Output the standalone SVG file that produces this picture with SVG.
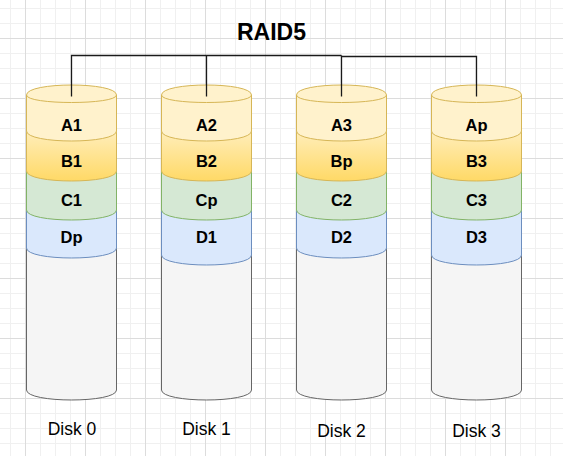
<svg xmlns="http://www.w3.org/2000/svg" width="563" height="456" viewBox="0 0 563 456">
  <style>
    .a { fill: #fff2cc; stroke: #d6b656; stroke-width: 1; }
    .b { fill: url(#gradB); stroke: #d6b656; stroke-width: 1; }
    .c { fill: #d5e8d4; stroke: #82b366; stroke-width: 1; }
    .d { fill: #dae8fc; stroke: #6c8ebf; stroke-width: 1; }
    .g { fill: #f5f5f5; stroke: #666666; stroke-width: 1; }
    .front { fill: none; stroke: #d6b656; stroke-width: 1; }
    .seg { font-family: "Liberation Sans", Arial, sans-serif; font-size: 16.5px; font-weight: bold; fill: #000; text-anchor: middle; }
    .cap { font-family: "Liberation Sans", Arial, sans-serif; font-size: 17.5px; fill: #000; text-anchor: middle; }
    .title { font-family: "Liberation Sans", Arial, sans-serif; font-size: 23px; font-weight: bold; fill: #000; text-anchor: middle; }
    .edge { fill: none; stroke: #1a1a1a; stroke-width: 1.3; }
  </style>
  <defs>
    <linearGradient id="gradB" x1="0" y1="0" x2="0" y2="1">
      <stop offset="0" stop-color="#fff2cc"/>
      <stop offset="1" stop-color="#ffd966"/>
    </linearGradient>
    <pattern id="grid" patternUnits="userSpaceOnUse" x="25" y="38" width="60" height="60">
      <rect width="60" height="60" fill="#ffffff"/>
      <path d="M15.5,0V60M30.5,0V60M45.5,0V60M0,15.5H60M0,30.5H60M0,45.5H60" stroke="#f0f0f0" stroke-width="1" fill="none"/>
      <path d="M0.5,0V60M0,0.5H60" stroke="#dcdcdc" stroke-width="1" fill="none"/>
    </pattern>
  </defs>
  <rect width="563" height="456" fill="url(#grid)"/>

  <g id="title"><text class="title" x="271.5" y="40">RAID5</text></g>

  <g id="disk0" transform="translate(26.5,0)">
    <path class="g" d="M0,248 C0,234.67 90,234.67 90,248 L90,390 C90,403.33 0,403.33 0,390 Z"/>
    <path class="d" d="M0,210 C0,196.67 90,196.67 90,210 L90,248 C90,261.33 0,261.33 0,248 Z"/>
    <path class="c" d="M0,171 C0,157.67 90,157.67 90,171 L90,210 C90,223.33 0,223.33 0,210 Z"/>
    <path class="b" d="M0,131 C0,117.67 90,117.67 90,131 L90,171 C90,184.33 0,184.33 0,171 Z"/>
    <path class="a" d="M0,95 C0,81.67 90,81.67 90,95 L90,131 C90,144.33 0,144.33 0,131 Z"/>
    <path class="front" d="M0,95 C0,105 90,105 90,95"/>
    <text class="seg" x="45" y="130.5">A1</text>
    <text class="seg" x="45" y="167">B1</text>
    <text class="seg" x="45" y="205.5">C1</text>
    <text class="seg" x="45" y="242.5">Dp</text>
  </g>

  <g id="disk1" transform="translate(161.5,0)">
    <path class="g" d="M0,248 C0,234.67 90,234.67 90,248 L90,390 C90,403.33 0,403.33 0,390 Z"/>
    <path class="d" d="M0,210 C0,196.67 90,196.67 90,210 L90,255 C90,268.33 0,268.33 0,255 Z"/>
    <path class="c" d="M0,171 C0,157.67 90,157.67 90,171 L90,210 C90,223.33 0,223.33 0,210 Z"/>
    <path class="b" d="M0,131 C0,117.67 90,117.67 90,131 L90,171 C90,184.33 0,184.33 0,171 Z"/>
    <path class="a" d="M0,95 C0,81.67 90,81.67 90,95 L90,131 C90,144.33 0,144.33 0,131 Z"/>
    <path class="front" d="M0,95 C0,105 90,105 90,95"/>
    <text class="seg" x="45" y="130.5">A2</text>
    <text class="seg" x="45" y="167">B2</text>
    <text class="seg" x="45" y="205.5">Cp</text>
    <text class="seg" x="45" y="243">D1</text>
  </g>

  <g id="disk2" transform="translate(296.5,0)">
    <path class="g" d="M0,248 C0,234.67 90,234.67 90,248 L90,390 C90,403.33 0,403.33 0,390 Z"/>
    <path class="d" d="M0,210 C0,196.67 90,196.67 90,210 L90,248 C90,261.33 0,261.33 0,248 Z"/>
    <path class="c" d="M0,171 C0,157.67 90,157.67 90,171 L90,210 C90,223.33 0,223.33 0,210 Z"/>
    <path class="b" d="M0,131 C0,117.67 90,117.67 90,131 L90,171 C90,184.33 0,184.33 0,171 Z"/>
    <path class="a" d="M0,95 C0,81.67 90,81.67 90,95 L90,131 C90,144.33 0,144.33 0,131 Z"/>
    <path class="front" d="M0,95 C0,105 90,105 90,95"/>
    <text class="seg" x="45" y="130.5">A3</text>
    <text class="seg" x="45" y="167">Bp</text>
    <text class="seg" x="45" y="205.5">C2</text>
    <text class="seg" x="45" y="242.5">D2</text>
  </g>

  <g id="disk3" transform="translate(431.5,0)">
    <path class="g" d="M0,248 C0,234.67 90,234.67 90,248 L90,390 C90,403.33 0,403.33 0,390 Z"/>
    <path class="d" d="M0,210 C0,196.67 90,196.67 90,210 L90,255 C90,268.33 0,268.33 0,255 Z"/>
    <path class="c" d="M0,171 C0,157.67 90,157.67 90,171 L90,210 C90,223.33 0,223.33 0,210 Z"/>
    <path class="b" d="M0,131 C0,117.67 90,117.67 90,131 L90,171 C90,184.33 0,184.33 0,171 Z"/>
    <path class="a" d="M0,95 C0,81.67 90,81.67 90,95 L90,131 C90,144.33 0,144.33 0,131 Z"/>
    <path class="front" d="M0,95 C0,105 90,105 90,95"/>
    <text class="seg" x="45" y="130.5">Ap</text>
    <text class="seg" x="45" y="167">B3</text>
    <text class="seg" x="45" y="205.5">C3</text>
    <text class="seg" x="45" y="243">D3</text>
  </g>

  <g id="label-disk0"><text class="cap" x="72" y="435">Disk 0</text></g>
  <g id="label-disk1"><text class="cap" x="206.5" y="435">Disk 1</text></g>
  <g id="label-disk2"><text class="cap" x="341.5" y="436.5">Disk 2</text></g>
  <g id="label-disk3"><text class="cap" x="476.5" y="436.5">Disk 3</text></g>

  <g id="connectors">
    <path class="edge" d="M71.5,96.5 V55.5 H341.5"/>
    <path class="edge" d="M206.5,55.5 V96.5"/>
    <path class="edge" d="M341.5,55.5 V96.5"/>
    <path class="edge" d="M476.5,96.5 V56.5 H341.5"/>
  </g>
</svg>
